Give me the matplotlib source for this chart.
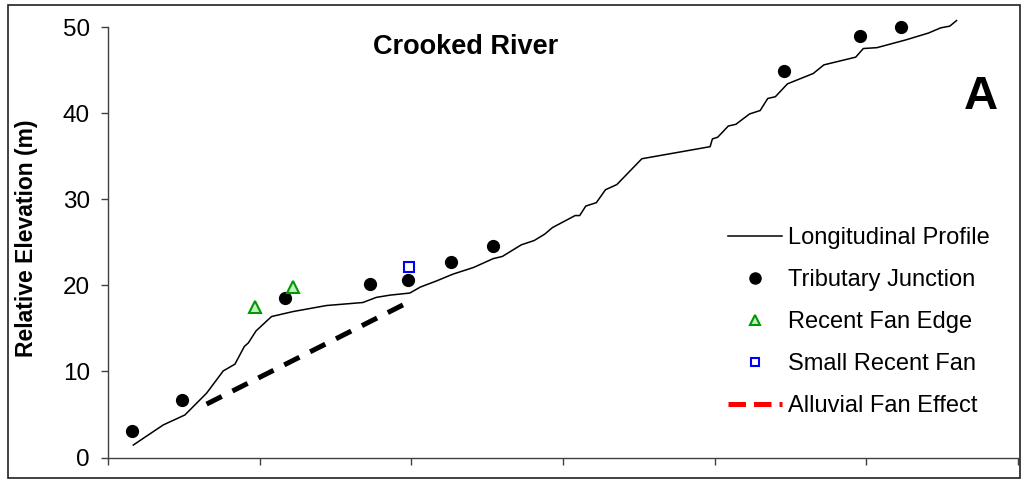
import matplotlib
matplotlib.use("Agg")
import matplotlib.pyplot as plt
from matplotlib.lines import Line2D
from matplotlib.patches import Rectangle

plt.rcParams["font.family"] = ["Liberation Sans", "DejaVu Sans"]

# longitudinal profile (distance in axis units, elevation in m)
profile_x = [0.167, 0.364, 0.507, 0.65, 0.76, 0.837, 0.899, 0.925, 0.976, 1.078,
             1.22, 1.44, 1.68, 1.77, 1.86, 1.99, 2.06, 2.165, 2.275, 2.41,
             2.54, 2.60, 2.725, 2.81, 2.88, 2.93, 3.08, 3.11, 3.15, 3.22,
             3.28, 3.355, 3.52, 3.97, 3.985, 4.02, 4.09, 4.14, 4.23, 4.30,
             4.35, 4.40, 4.48, 4.65, 4.72, 4.93, 4.98, 5.07, 5.26, 5.41,
             5.49, 5.55, 5.595]
profile_y = [1.45, 3.78, 4.94, 7.47, 10.06, 10.84, 12.9, 13.3, 14.7, 16.37,
             16.95, 17.65, 18.0, 18.6, 18.86, 19.1, 19.8, 20.5, 21.3, 22.07,
             23.1, 23.35, 24.7, 25.2, 25.95, 26.7, 28.1, 28.1, 29.2, 29.6,
             31.1, 31.7, 34.7, 36.1, 37.0, 37.2, 38.5, 38.7, 39.9, 40.3,
             41.7, 41.9, 43.4, 44.6, 45.6, 46.5, 47.5, 47.6, 48.5, 49.3,
             49.9, 50.1, 50.75]

trib_x = [0.158, 0.49, 1.166, 1.73, 1.98, 2.26, 2.54, 4.46, 4.96, 5.23]
trib_y = [3.1, 6.7, 18.5, 20.2, 20.6, 22.7, 24.6, 44.9, 49.0, 50.0]

fan_edge_x = [0.97, 1.22]
fan_edge_y = [17.5, 19.8]

small_fan_x = [1.985]
small_fan_y = [22.1]

alluvial_x = [0.65, 2.01]
alluvial_y = [6.2, 18.3]

fig = plt.figure(figsize=(10.24, 4.8), dpi=100)
ax = fig.add_axes([108 / 1024, 1 - 457.5 / 480, 910 / 1024, 430.5 / 480])

ax.plot(profile_x, profile_y, color="black", lw=1.1, clip_on=False)
ax.plot(alluvial_x, alluvial_y, color="black", lw=3.6, dashes=(3.4, 2.4),
        solid_capstyle="butt", dash_capstyle="butt")
ax.plot(trib_x, trib_y, "o", color="black", ms=8.5, ls="none", clip_on=False)
ax.plot(fan_edge_x, fan_edge_y, "^", ms=9, mfc="#c8ecc8", mec="#009900",
        mew=1.5, ls="none")
ax.plot(small_fan_x, small_fan_y, "s", ms=7, mfc="white", mec="#0000ff",
        mew=1.5, ls="none")

ax.set_xlim(0, 6)
ax.set_ylim(0, 50)
ax.set_yticks([0, 10, 20, 30, 40, 50])
ax.set_xticks(range(7))
ax.set_xticklabels([])
for s in ["top", "right"]:
    ax.spines[s].set_visible(False)
for s in ["left", "bottom"]:
    ax.spines[s].set_color("#404040")
    ax.spines[s].set_linewidth(1.0)
ax.tick_params(axis="both", direction="out", length=5, width=1.0,
               color="#404040", labelsize=17.5, pad=8)

ax.set_ylabel("Relative Elevation (m)", fontsize=16.5, fontweight="bold")
ax.yaxis.set_label_coords(-0.077, 0.51)

ax.text(466 / 1024, 1 - 47 / 480, "Crooked River", transform=fig.transFigure,
        ha="center", va="center", fontsize=19.5, fontweight="bold")
ax.text(981 / 1024, 1 - 97 / 480, "A", transform=fig.transFigure,
        ha="center", va="center", fontsize=34, fontweight="bold")

handles = [
    Line2D([], [], color="black", lw=1.1),
    Line2D([], [], marker="o", color="black", ms=8, ls="none"),
    Line2D([], [], marker="^", ms=7, mfc="#c8ecc8", mec="#009900", mew=1.5, ls="none"),
    Line2D([], [], marker="s", ms=6, mfc="white", mec="#0000ff", mew=1.5, ls="none"),
    Line2D([], [], color="#ff0000", lw=3.6, dashes=(3.5, 1.6)),
]
labels = ["Longitudinal Profile", "Tributary Junction", "Recent Fan Edge",
          "Small Recent Fan", "Alluvial Fan Effect"]
fig.legend(handles, labels, loc="upper left", bbox_to_anchor=(728 / 1024, 1 - 227 / 480),
           frameon=False, fontsize=17, handlelength=2.3, handletextpad=0.25,
           labelspacing=0.85, borderpad=0, borderaxespad=0)

fig.patches.append(Rectangle((8 / 1024, 2 / 480), 1012 / 1024, 473 / 480,
                             transform=fig.transFigure, fill=False,
                             edgecolor="#202020", lw=1.2))

fig.savefig("out.png", dpi=100)
